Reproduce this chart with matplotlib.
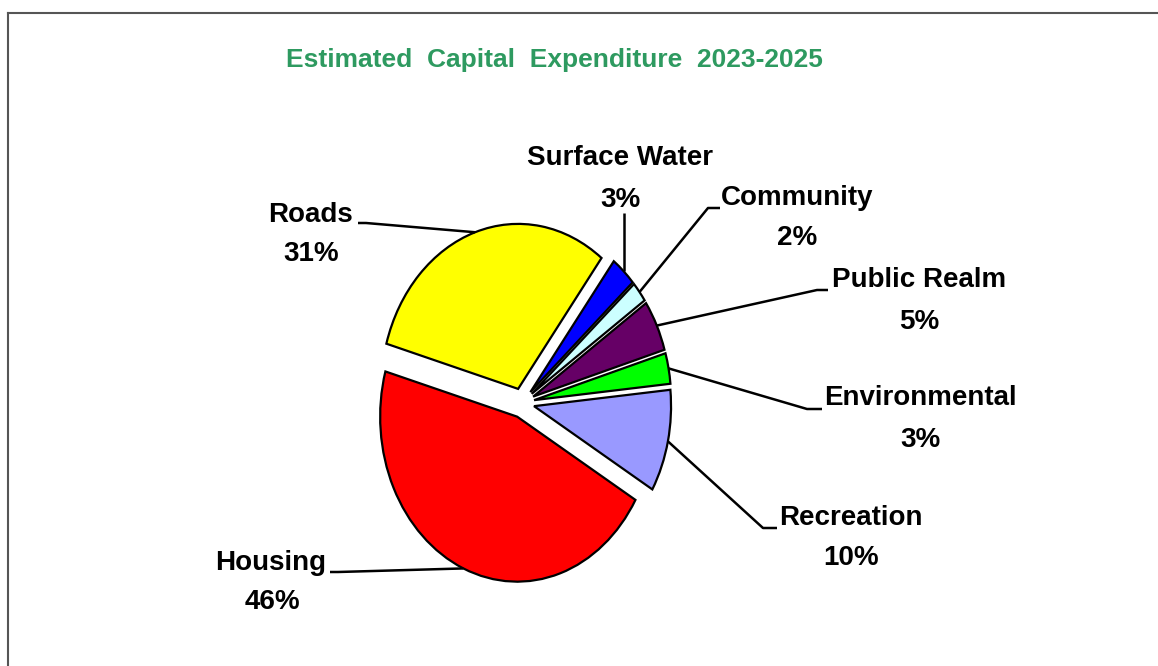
import numpy as np
import matplotlib.pyplot as plt

# data
categories = ['Surface Water', 'Community', 'Public Realm', 'Environmental',
              'Recreation', 'Housing', 'Roads']
values = [3, 2, 5, 3, 10, 46, 31]
colors = ['#0000FF', '#CCFFFF', '#660066', '#00FF00', '#9999FF', '#FF0000', '#FFFF00']

W, H = 1158, 666
# pie centre and radii in pixels (the pie is drawn as an ellipse)
cx, cy, rx, ry = 522, 403, 137, 165

def to_data(px, py):
    return (px - cx) / rx, (cy - py) / ry

fig = plt.figure(figsize=(W / 100, H / 100), dpi=100)
ax = fig.add_axes([0, 0, 1, 1])

wedges, _ = ax.pie(values, colors=colors, startangle=52.5, counterclock=False,
                   explode=[0.09] * len(values),
                   wedgeprops=dict(edgecolor='black', linewidth=1.6))
ax.set_aspect('auto')
ax.set_xlim(to_data(0, 0)[0], to_data(W, 0)[0])
ax.set_ylim(to_data(0, H)[1], to_data(0, 0)[1])
ax.axis('off')

# label layout: name centre, percent centre, leader points (pixels) before the wedge
layout = {
    'Surface Water': ((620, 158), (620, 200), [(624, 213)]),
    'Community': ((797, 198), (797, 238), [(720, 208), (708, 208)]),
    'Public Realm': ((919, 280), (919, 322), [(828, 290), (817, 290)]),
    'Environmental': ((920, 398), (920, 440), [(822, 409), (807, 409)]),
    'Recreation': ((851, 518), (851, 558), [(777, 528), (763, 528)]),
    'Housing': ((271, 563), (272, 602), [(330, 572), (338, 572)]),
    'Roads': ((311, 215), (311, 254), [(358, 223), (366, 223)]),
}

font = dict(family='Liberation Sans', fontweight='bold', fontsize=20, color='black',
            ha='center', va='center')

for w, name, v in zip(wedges, categories, values):
    (nx, ny), (vx, vy), pts = layout[name]
    ax.text(*to_data(nx, ny), name, **font)
    ax.text(*to_data(vx, vy), f'{v}%', **font)
    mid = np.deg2rad((w.theta1 + w.theta2) / 2)
    ex = w.center[0] + w.r * np.cos(mid)
    ey = w.center[1] + w.r * np.sin(mid)
    xs = [to_data(*p)[0] for p in pts] + [ex]
    ys = [to_data(*p)[1] for p in pts] + [ey]
    if name == 'Surface Water':
        xs[-1] = xs[0]
    ax.plot(xs, ys, color='black', lw=1.8, solid_capstyle='butt')

fig.text(554 / W, 1 - 60 / H, 'Estimated  Capital  Expenditure  2023-2025',
         family='Liberation Sans', fontweight='bold', fontsize=19, color='#2E9A60',
         ha='center', va='center')

# frame (top and left edges visible)
fig.add_artist(plt.Line2D([8 / W, 1], [1 - 13 / H, 1 - 13 / H], color='#555555', lw=1.5))
fig.add_artist(plt.Line2D([8 / W, 8 / W], [0, 1 - 13 / H], color='#555555', lw=1.5))

fig.savefig('out.png', dpi=100)
